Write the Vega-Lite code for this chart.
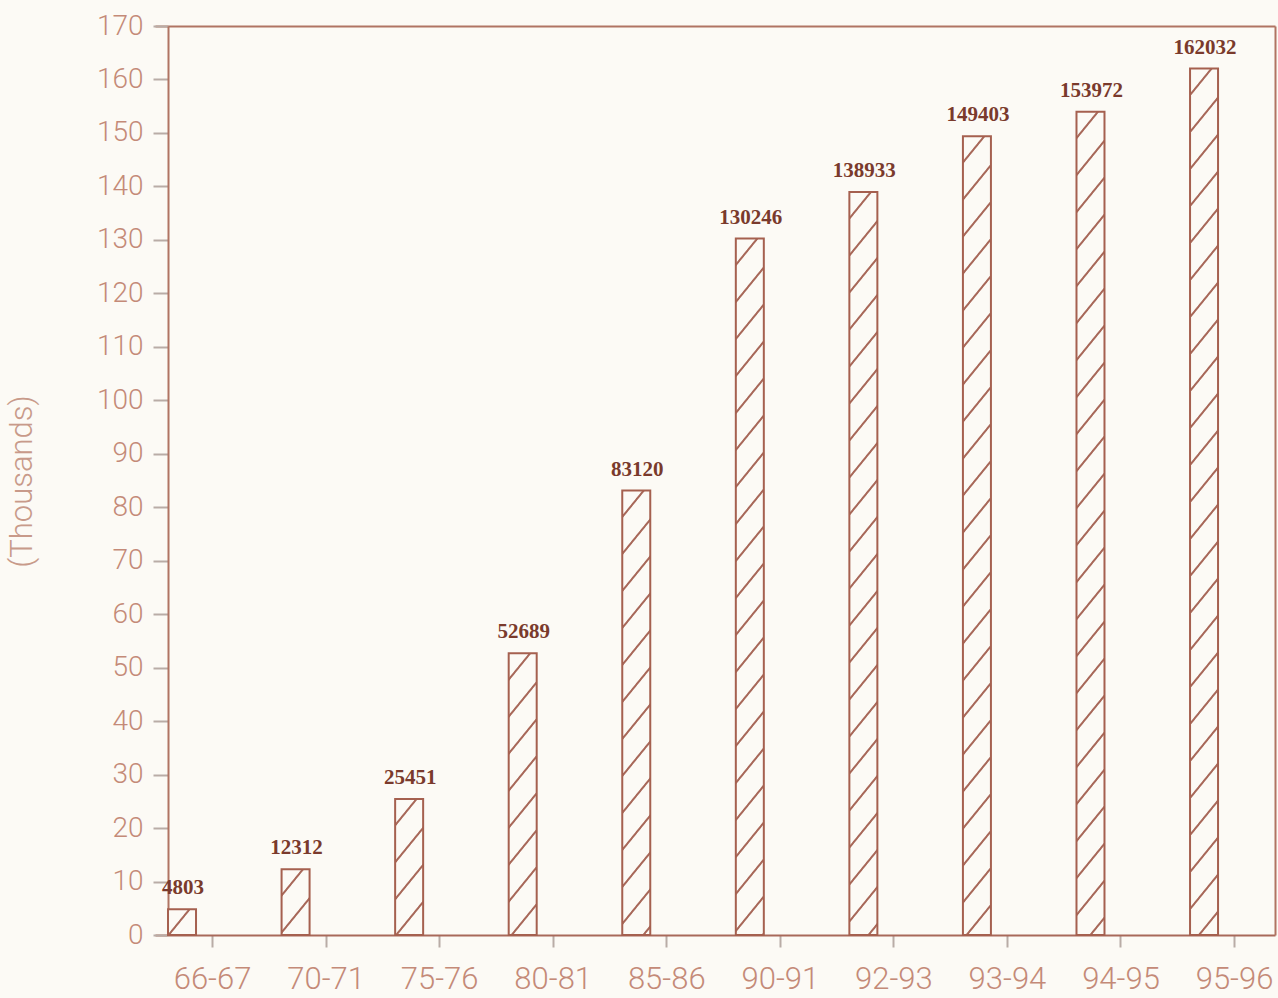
{
  "$schema": "https://vega.github.io/schema/vega-lite/v6.json",
  "width": 1120,
  "height": 909,
  "autosize": {"type": "none"},
  "padding": {"left": 155, "top": 26, "right": 3, "bottom": 63},
  "background": "#fcfaf5",
  "config": {"view": {"stroke": null}},
  "params": [
    {"name": "hs", "value": [
      {"offset": 0, "color": "#fcfaf5"},
      {"offset": 0.026, "color": "#fcfaf5"}, {"offset": 0.0275, "color": "#a8695a"}, {"offset": 0.0295, "color": "#a8695a"}, {"offset": 0.031, "color": "#fcfaf5"},
      {"offset": 0.066, "color": "#fcfaf5"}, {"offset": 0.0675, "color": "#a8695a"}, {"offset": 0.0695, "color": "#a8695a"}, {"offset": 0.071, "color": "#fcfaf5"},
      {"offset": 0.106, "color": "#fcfaf5"}, {"offset": 0.1075, "color": "#a8695a"}, {"offset": 0.1095, "color": "#a8695a"}, {"offset": 0.111, "color": "#fcfaf5"},
      {"offset": 0.146, "color": "#fcfaf5"}, {"offset": 0.1475, "color": "#a8695a"}, {"offset": 0.1495, "color": "#a8695a"}, {"offset": 0.151, "color": "#fcfaf5"},
      {"offset": 0.186, "color": "#fcfaf5"}, {"offset": 0.1875, "color": "#a8695a"}, {"offset": 0.1895, "color": "#a8695a"}, {"offset": 0.191, "color": "#fcfaf5"},
      {"offset": 0.226, "color": "#fcfaf5"}, {"offset": 0.2275, "color": "#a8695a"}, {"offset": 0.2295, "color": "#a8695a"}, {"offset": 0.231, "color": "#fcfaf5"},
      {"offset": 0.266, "color": "#fcfaf5"}, {"offset": 0.2675, "color": "#a8695a"}, {"offset": 0.2695, "color": "#a8695a"}, {"offset": 0.271, "color": "#fcfaf5"},
      {"offset": 0.306, "color": "#fcfaf5"}, {"offset": 0.3075, "color": "#a8695a"}, {"offset": 0.3095, "color": "#a8695a"}, {"offset": 0.311, "color": "#fcfaf5"},
      {"offset": 0.346, "color": "#fcfaf5"}, {"offset": 0.3475, "color": "#a8695a"}, {"offset": 0.3495, "color": "#a8695a"}, {"offset": 0.351, "color": "#fcfaf5"},
      {"offset": 0.386, "color": "#fcfaf5"}, {"offset": 0.3875, "color": "#a8695a"}, {"offset": 0.3895, "color": "#a8695a"}, {"offset": 0.391, "color": "#fcfaf5"},
      {"offset": 0.426, "color": "#fcfaf5"}, {"offset": 0.4275, "color": "#a8695a"}, {"offset": 0.4295, "color": "#a8695a"}, {"offset": 0.431, "color": "#fcfaf5"},
      {"offset": 0.466, "color": "#fcfaf5"}, {"offset": 0.4675, "color": "#a8695a"}, {"offset": 0.4695, "color": "#a8695a"}, {"offset": 0.471, "color": "#fcfaf5"},
      {"offset": 0.506, "color": "#fcfaf5"}, {"offset": 0.5075, "color": "#a8695a"}, {"offset": 0.5095, "color": "#a8695a"}, {"offset": 0.511, "color": "#fcfaf5"},
      {"offset": 0.546, "color": "#fcfaf5"}, {"offset": 0.5475, "color": "#a8695a"}, {"offset": 0.5495, "color": "#a8695a"}, {"offset": 0.551, "color": "#fcfaf5"},
      {"offset": 0.586, "color": "#fcfaf5"}, {"offset": 0.5875, "color": "#a8695a"}, {"offset": 0.5895, "color": "#a8695a"}, {"offset": 0.591, "color": "#fcfaf5"},
      {"offset": 0.626, "color": "#fcfaf5"}, {"offset": 0.6275, "color": "#a8695a"}, {"offset": 0.6295, "color": "#a8695a"}, {"offset": 0.631, "color": "#fcfaf5"},
      {"offset": 0.666, "color": "#fcfaf5"}, {"offset": 0.6675, "color": "#a8695a"}, {"offset": 0.6695, "color": "#a8695a"}, {"offset": 0.671, "color": "#fcfaf5"},
      {"offset": 0.706, "color": "#fcfaf5"}, {"offset": 0.7075, "color": "#a8695a"}, {"offset": 0.7095, "color": "#a8695a"}, {"offset": 0.711, "color": "#fcfaf5"},
      {"offset": 0.746, "color": "#fcfaf5"}, {"offset": 0.7475, "color": "#a8695a"}, {"offset": 0.7495, "color": "#a8695a"}, {"offset": 0.751, "color": "#fcfaf5"},
      {"offset": 0.786, "color": "#fcfaf5"}, {"offset": 0.7875, "color": "#a8695a"}, {"offset": 0.7895, "color": "#a8695a"}, {"offset": 0.791, "color": "#fcfaf5"},
      {"offset": 0.826, "color": "#fcfaf5"}, {"offset": 0.8275, "color": "#a8695a"}, {"offset": 0.8295, "color": "#a8695a"}, {"offset": 0.831, "color": "#fcfaf5"},
      {"offset": 0.866, "color": "#fcfaf5"}, {"offset": 0.8675, "color": "#a8695a"}, {"offset": 0.8695, "color": "#a8695a"}, {"offset": 0.871, "color": "#fcfaf5"},
      {"offset": 0.906, "color": "#fcfaf5"}, {"offset": 0.9075, "color": "#a8695a"}, {"offset": 0.9095, "color": "#a8695a"}, {"offset": 0.911, "color": "#fcfaf5"},
      {"offset": 0.946, "color": "#fcfaf5"}, {"offset": 0.9475, "color": "#a8695a"}, {"offset": 0.9495, "color": "#a8695a"}, {"offset": 0.951, "color": "#fcfaf5"},
      {"offset": 1, "color": "#fcfaf5"}
    ]}
  ],
  "data": {"values": [
    {"period": "66-67", "value": 4803},
    {"period": "70-71", "value": 12312},
    {"period": "75-76", "value": 25451},
    {"period": "80-81", "value": 52689},
    {"period": "85-86", "value": 83120},
    {"period": "90-91", "value": 130246},
    {"period": "92-93", "value": 138933},
    {"period": "93-94", "value": 149403},
    {"period": "94-95", "value": 153972},
    {"period": "95-96", "value": 162032}
  ]},
  "layer": [
    {
      "mark": {
        "type": "bar",
        "width": 28,
        "xOffset": -30,
        "stroke": "#a5604f",
        "strokeWidth": 2,
        "fill": {"expr": "{gradient: 'linear', x1: 0, y1: 0, x2: 15384600 / (571536 + 484 * pow(datum.value * 909 / 170000, 2)), y2: 447700 * (datum.value * 909 / 170000) / (571536 + 484 * pow(datum.value * 909 / 170000, 2)), stops: hs}"}
      },
      "encoding": {
        "x": {
          "field": "period", "type": "ordinal", "sort": null,
          "scale": {"type": "point", "padding": 0.4314, "align": 0.582},
          "axis": {
            "orient": "bottom", "title": null, "labelAngle": 0,
            "domainColor": "#a8695a", "domainWidth": 2,
            "tickColor": "#b9aca6", "tickSize": 12, "tickWidth": 2,
            "labelFont": "Roboto", "labelFontWeight": 300, "labelFontSize": 31,
            "labelColor": "#c48a78", "labelPadding": 17
          }
        },
        "y": {
          "field": "value", "type": "quantitative",
          "scale": {"domain": [0, 170000], "nice": false, "zero": true},
          "axis": {
            "orient": "left", "offset": -13,
            "values": [0, 10000, 20000, 30000, 40000, 50000, 60000, 70000, 80000, 90000, 100000, 110000, 120000, 130000, 140000, 150000, 160000, 170000],
            "labelExpr": "datum.value / 1000",
            "domainColor": "#b07463", "domainWidth": 2,
            "tickColor": "#b9aca6", "tickSize": 15, "tickWidth": 2,
            "labelFont": "Roboto", "labelFontWeight": 300, "labelFontSize": 28,
            "labelColor": "#c48a78", "labelPadding": 10,
            "grid": false,
            "title": "(Thousands)",
            "titleFont": "Roboto", "titleFontWeight": 300, "titleFontSize": 31,
            "titleColor": "#c89a8a",
            "titleAngle": -90, "titleAlign": "center", "titleBaseline": "middle",
            "titleX": -146, "titleY": 455
          }
        }
      }
    },
    {
      "mark": {
        "type": "text",
        "xOffset": -29,
        "dy": -15,
        "baseline": "alphabetic",
        "align": "center",
        "font": "Liberation Serif",
        "fontWeight": "bold",
        "fontSize": 21,
        "color": "#7a3a2c"
      },
      "encoding": {
        "x": {
          "field": "period", "type": "ordinal", "sort": null,
          "scale": {"type": "point", "padding": 0.4314, "align": 0.582},
          "axis": {"orient": "top", "labels": false, "ticks": false, "title": null, "domainColor": "#b07463", "domainWidth": 2}
        },
        "y": {
          "field": "value", "type": "quantitative",
          "scale": {"domain": [0, 170000], "nice": false, "zero": true},
          "axis": {"orient": "right", "labels": false, "ticks": false, "title": null, "grid": false, "domainColor": "#b07463", "domainWidth": 2}
        },
        "text": {"field": "value", "type": "quantitative", "format": "d"}
      }
    }
  ],
  "resolve": {"axis": {"x": "independent", "y": "independent"}}
}
